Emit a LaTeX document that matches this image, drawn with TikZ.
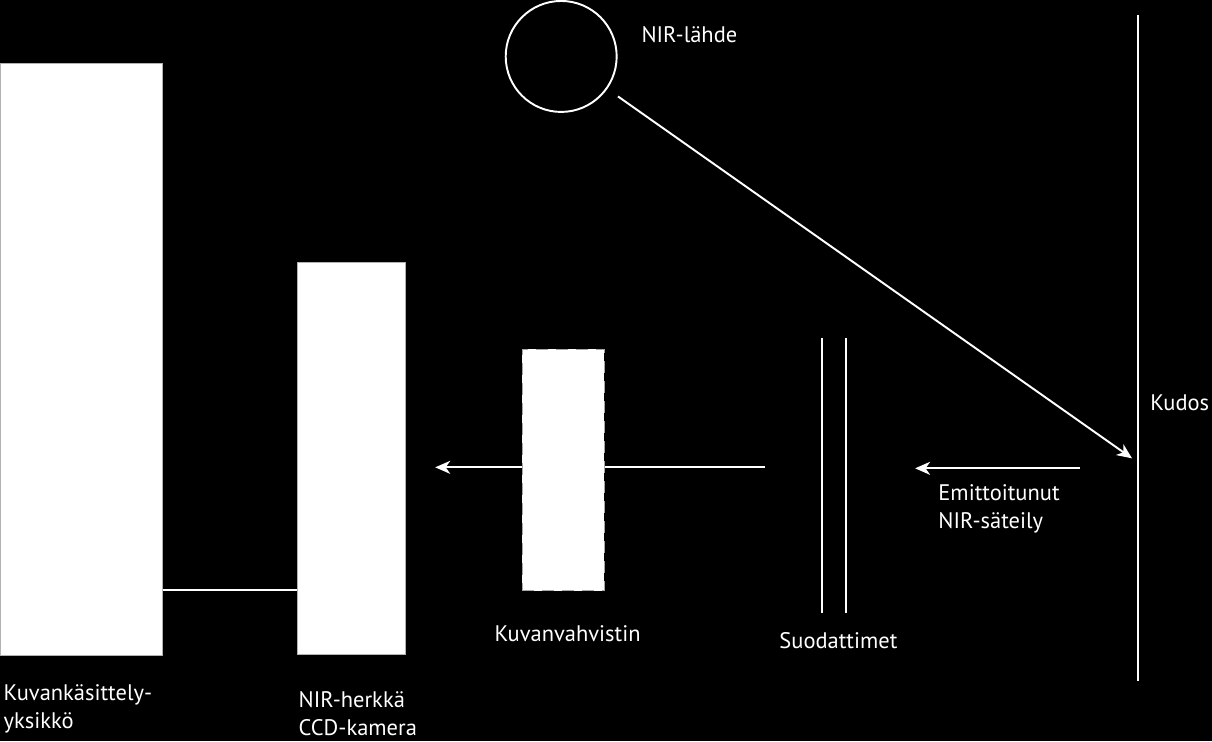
\documentclass[tikz,border=0pt]{standalone}
\usepackage{fontspec}
\setmainfont{PT Sans}
\usetikzlibrary{arrows.meta}

\begin{document}
\begin{tikzpicture}[x=0.2mm, y=-0.2mm,
  every node/.style={font=\fontsize{12.8}{15.6}\selectfont, text=white},
  unit/.style={draw=gray!60, fill=white, inner sep=0pt},
  label/.style={anchor=base west, align=left, inner sep=0pt},
  beam/.style={white, line width=1.1pt},
  >={Stealth[length=3mm, width=2.6mm, inset=0.9mm]}]
\fill[black] (0,0) rectangle (1212,741);

% optiikan akseli ja lahde
\node[draw=white, line width=1.1pt, circle, minimum size=22.2mm, inner sep=0pt] (src) at (561,56) {};
\coordinate (hit) at (1132,458);
\coordinate (beamout) at (765,467);
\coordinate (beamin) at (435,467);
\coordinate (emitstart) at (1080,468);
\coordinate (emitend) at (915,468);
\coordinate (link) at (230,590);

\draw[beam, ->, shorten <=2.6mm] (src) -- (hit);
\draw[beam, ->] (beamout) -- (beamin);
\draw[beam, ->] (emitstart) -- (emitend);

% laitteet
\node[unit, minimum width=32.4mm, minimum height=118.4mm] (proc) at (81,359) {};
\node[unit, minimum width=21.6mm, minimum height=78.4mm] (cam) at (351,458) {};
\node[unit, draw=gray!70, dashed, dash pattern=on 2.4mm off 1.6mm, minimum width=16.4mm, minimum height=48.4mm] (amp) at (563,469.5) {};
\draw[beam] (link -| proc.east) -- (link -| cam.west);

% suodattimet ja kudos
\draw[beam] (822,338) -- (822,613);
\draw[beam] (846,338) -- (846,613);
\draw[beam] (1138,15) -- (1138,681);

% tekstit (kaksirivisissa base = viimeinen rivi)
\node[label] (srclbl) at (641,42) {NIR-lähde};
\node[label] (tissuelbl) at (1150,410) {Kudos};
\node[label] (emitlbl) at (938,528) {Emittoitunut\\NIR-säteily};
\node[label] (filterlbl) at (779,648) {Suodattimet};
\node[label] (amplbl) at (494,641) {Kuvanvahvistin};
\node[label] (proclbl) at (3,728) {Kuvankäsittely-\\yksikkö};
\node[label] (camlbl) at (298,735) {NIR-herkkä\\CCD-kamera};
\end{tikzpicture}
\end{document}
